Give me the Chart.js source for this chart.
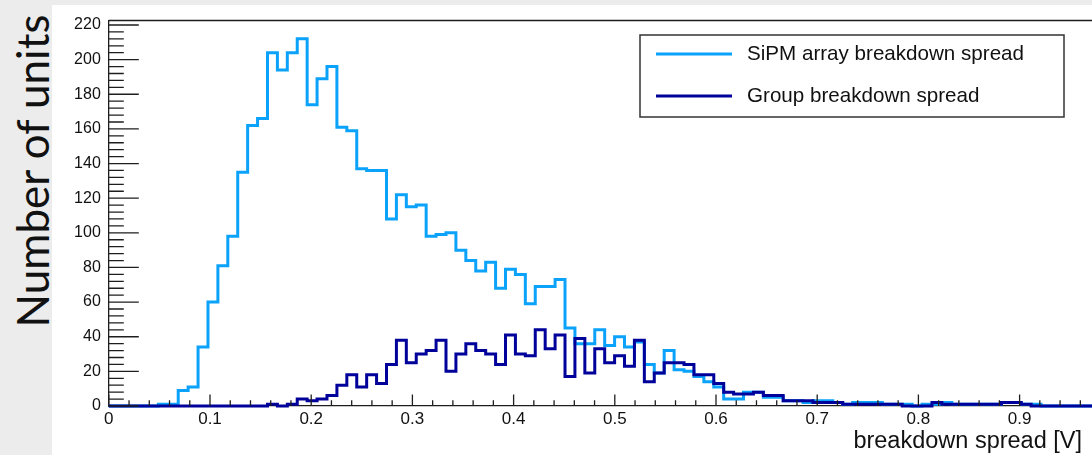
<!DOCTYPE html>
<html>
<head>
<meta charset="utf-8">
<title>Breakdown spread</title>
<script src="https://cdn.jsdelivr.net/npm/chart.js@4.4.1/dist/chart.umd.min.js"></script>
<style>
    html, body { margin: 0; padding: 0; width: 1092px; height: 455px; overflow: hidden; background: #ececec; }
    #painel { position: absolute; left: 52px; top: 5px; right: 0; bottom: 0; background: #fff; }
    #tituloY {
        position: absolute; left: 32px; top: 171px;
        transform: translate(-50%, -50%) rotate(-90deg);
        font: 44px Lato, sans-serif; color: #111; white-space: nowrap;
    }
    #grafico { position: absolute; left: 0; top: 0; }
</style>
</head>
<body>
<div id="painel"></div>
<div id="tituloY">Number of units</div>
<canvas id="grafico" width="1130" height="455"></canvas>
<script>
// histogram: 100 bins starting at 0
const larguraBin = 0.0098;

const sipmContagens = [
    0, 0, 0, 0, 0, 1, 1, 9, 11, 34,
    60, 81, 98, 135, 162, 166, 204, 194, 204, 212,
    174, 189, 196, 161, 159, 137, 136, 136, 108, 122,
    115, 116, 98, 99, 100, 90, 84, 78, 83, 68,
    79, 76, 59, 69, 69, 73, 45, 36, 36, 44,
    35, 40, 34, 37, 24, 19, 32, 21, 20, 17,
    14, 11, 4, 4, 8, 8, 5, 5, 3, 3,
    2, 3, 3, 2, 1, 2, 2, 2, 1, 1,
    1, 0, 1, 1, 2, 1, 1, 1, 1, 1,
    2, 2, 1, 1, 0, 0, 0, 0, 0, 0
];

const grupoContagens = [
    0, 0, 0, 0, 0, 0, 0, 0, 0, 0,
    0, 0, 0, 0, 0, 0, 1, 0, 1, 4,
    3, 4, 6, 12, 18, 11, 18, 13, 24, 38,
    25, 30, 32, 38, 20, 30, 36, 32, 30, 24,
    41, 30, 29, 44, 33, 41, 17, 39, 19, 33,
    25, 29, 23, 38, 14, 19, 25, 25, 24, 18,
    18, 13, 8, 7, 7, 8, 6, 6, 3, 3,
    3, 2, 2, 2, 1, 1, 1, 1, 1, 1,
    0, 0, 0, 2, 1, 1, 1, 1, 1, 1,
    2, 2, 1, 0, 0, 0, 0, 0, 0, 0
];

const xTicks = [0, 0.1, 0.2, 0.3, 0.4, 0.5, 0.6, 0.7, 0.8, 0.9, 1];
const xRotulos = ['0', '0.1', '0.2', '0.3', '0.4', '0.5', '0.6', '0.7', '0.8', '0.9', '1'];
const yTicks = [0, 20, 40, 60, 80, 100, 120, 140, 160, 180, 200, 220];
const yMaximo = 222.6;

const legendas = ['SiPM array breakdown spread', 'Group breakdown spread'];
const tituloX = 'breakdown spread [V]';

// points at the left edge of every bin, plus the closing edge
const degraus = contagens => contagens
    .map((c, i) => ({ x: i * larguraBin, y: c }))
    .concat([{ x: contagens.length * larguraBin, y: contagens[contagens.length - 1] }]);

const fonte = 'Liberation Sans, Arial, sans-serif';

const molduraRoot = {
    id: 'molduraRoot',
    afterDatasetsDraw(chart) {
        const { ctx, chartArea: a, scales: { x, y } } = chart;
        ctx.save();

        // frame top + inward ticks
        ctx.strokeStyle = '#1e1e1e';
        ctx.lineWidth = 1.3;
        ctx.beginPath();
        ctx.moveTo(a.left, a.top);
        ctx.lineTo(a.right, a.top);
        for (let v = 0; v <= y.max; v += 4) {
            const py = y.getPixelForValue(v);
            const len = v % 20 === 0 ? 30 : 15;
            ctx.moveTo(a.left, py);
            ctx.lineTo(a.left + len, py);
        }
        for (let i = 0; i <= 50; i++) {
            const px = x.getPixelForValue(i * 0.02);
            const len = i % 5 === 0 ? 11.5 : 5.8;
            ctx.moveTo(px, a.bottom);
            ctx.lineTo(px, a.bottom - len);
        }
        ctx.stroke();

        // legend box
        ctx.fillStyle = '#fff';
        ctx.fillRect(640, 35, 424, 82);
        ctx.strokeStyle = '#333';
        ctx.lineWidth = 1.5;
        ctx.strokeRect(640, 35, 424, 82);
        const ordem = [0, 1];
        ordem.forEach((d, k) => {
            const ds = chart.data.datasets[d];
            const ly = 54 + k * 42;
            ctx.strokeStyle = ds.borderColor;
            ctx.lineWidth = 3;
            ctx.beginPath();
            ctx.moveTo(656, ly);
            ctx.lineTo(732, ly);
            ctx.stroke();
            ctx.fillStyle = '#111';
            ctx.font = '20.6px ' + fonte;
            ctx.textBaseline = 'middle';
            ctx.textAlign = 'left';
            ctx.fillText(ds.label, 747, ly);
        });

        // x title
        ctx.fillStyle = '#111';
        ctx.font = '23.5px ' + fonte;
        ctx.textAlign = 'right';
        ctx.textBaseline = 'alphabetic';
        ctx.fillText(tituloX, 1082, 448);
        ctx.restore();
    }
};

const ctx = document.getElementById('grafico').getContext('2d');

window.grafico = new Chart(ctx, {
    type: 'line',
    data: {
        datasets: [
            {
                label: legendas[0],
                data: degraus(sipmContagens),
                borderColor: '#0aa2fa',
                borderWidth: 3,
                stepped: true,
                pointRadius: 0,
                fill: false,
                clip: 4,
                order: 2
            },
            {
                label: legendas[1],
                data: degraus(grupoContagens),
                borderColor: '#00009a',
                borderWidth: 3,
                stepped: true,
                pointRadius: 0,
                fill: false,
                clip: 4,
                order: 1
            }
        ]
    },
    options: {
        responsive: false,
        animation: false,
        devicePixelRatio: 1,
        layout: { padding: { top: 20.5, right: 9.2, left: 0, bottom: 0 } },
        plugins: {
            legend: { display: false },
            tooltip: { enabled: false }
        },
        scales: {
            x: {
                type: 'linear',
                min: 0,
                max: 1,
                grid: { display: false, drawTicks: false },
                border: { display: true, color: '#1e1e1e', width: 1.3 },
                afterBuildTicks: s => { s.ticks = xTicks.map(v => ({ value: v })); },
                afterFit: s => { s.height = 49; },
                ticks: {
                    autoSkip: false,
                    maxRotation: 0,
                    padding: 3,
                    color: '#111',
                    font: { family: fonte, size: 17 },
                    callback: (v, i) => xRotulos[i]
                }
            },
            y: {
                min: 0,
                max: yMaximo,
                grid: { display: false, drawTicks: false },
                border: { display: true, color: '#1e1e1e', width: 1.3 },
                afterBuildTicks: s => { s.ticks = yTicks.map(v => ({ value: v })); },
                afterFit: s => { s.width = 108.8; },
                ticks: {
                    padding: 8,
                    color: '#111',
                    font: { family: fonte, size: 16 }
                }
            }
        }
    },
    plugins: [molduraRoot]
});
</script>
</body>
</html>
